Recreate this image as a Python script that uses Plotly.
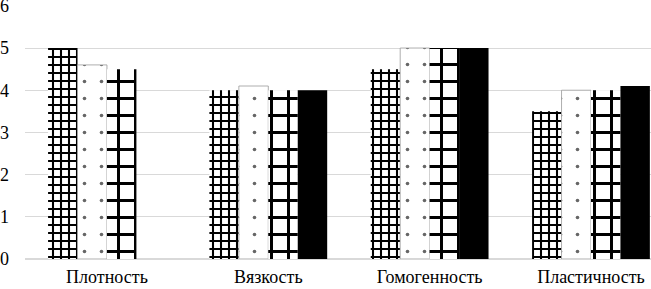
import plotly.graph_objects as go

categories = ["Плотность", "Вязкость", "Гомогенность", "Пластичность"]
series_1 = [5.0, 4.0, 4.5, 3.5]
series_2 = [4.6, 4.1, 5.0, 4.0]
series_3 = [4.5, 4.0, 5.0, 4.0]
series_4 = [None, 4.0, 5.0, 4.1]
y_ticks = [0, 1, 2, 3, 4, 5, 6]

fig = go.Figure()
fig.add_bar(x=categories, y=series_1, name="1",
            marker=dict(color="black", line=dict(width=0),
                        pattern=dict(shape="+", size=8, solidity=0.45,
                                     fgcolor="#000000", fgopacity=1,
                                     bgcolor="white")))
fig.add_bar(x=categories, y=series_2, name="2",
            marker=dict(color="white", line=dict(width=0.8, color="#999999"),
                        pattern=dict(shape=".", size=17, solidity=0.035,
                                     fgcolor="#666666", fgopacity=1,
                                     bgcolor="white")))
fig.add_bar(x=categories, y=series_3, name="3",
            marker=dict(color="black", line=dict(width=0),
                        pattern=dict(shape="+", size=17, solidity=0.32,
                                     fgcolor="#000000", fgopacity=1,
                                     bgcolor="white")))
fig.add_bar(x=categories, y=series_4, name="4",
            marker=dict(color="black", line=dict(width=0)))

fig.update_layout(
    width=651, height=289,
    margin=dict(l=25, r=0, t=5, b=30, autoexpand=False),
    paper_bgcolor="white", plot_bgcolor="white",
    barmode="group", bargap=0.27, bargroupgap=0,
    showlegend=False,
    font=dict(family="Liberation Serif", size=18, color="black"),
    xaxis=dict(range=[-0.508, 3.372], showline=False, ticks="",
               automargin=False, ticklabelstandoff=5,
               ticklabeloverflow="allow", tickfont=dict(size=18)),
    yaxis=dict(range=[0, 6.02], tickvals=y_ticks, showgrid=True,
               gridcolor="#d9d9d9", gridwidth=1, zeroline=True,
               zerolinecolor="#d9d9d9", showline=False,
               ticks="", ticklabelstandoff=15, automargin=False,
               ticklabeloverflow="allow", tickfont=dict(size=18)),
)

fig.write_html(
    "out.html",
    config={"displayModeBar": False},
    post_script="document.body.style.margin='0';document.body.style.overflow='hidden';",
)
